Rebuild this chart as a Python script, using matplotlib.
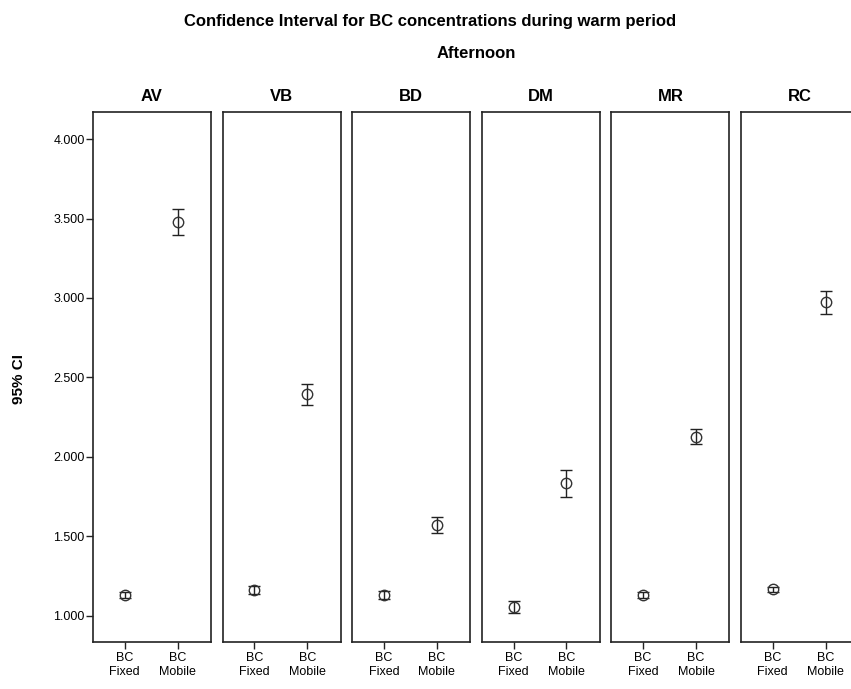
import matplotlib
matplotlib.use("Agg")
from matplotlib import pyplot as plt
from matplotlib.ticker import FuncFormatter

plt.rcParams['font.family'] = ['Liberation Sans', 'DejaVu Sans']

# 数据
sites = ['AV', 'VB', 'BD', 'DM', 'MR', 'RC']
groups = ['BC\nFixed', 'BC\nMobile']
fixed_mean = [1.132, 1.162, 1.133, 1.056, 1.132, 1.168]
fixed_lo = [1.112, 1.138, 1.108, 1.020, 1.114, 1.152]
fixed_hi = [1.152, 1.186, 1.158, 1.094, 1.150, 1.184]
mobile_mean = [3.478, 2.394, 1.574, 1.834, 2.126, 2.975]
mobile_lo = [3.398, 2.328, 1.524, 1.750, 2.082, 2.900]
mobile_hi = [3.558, 2.462, 1.622, 1.918, 2.176, 3.046]
yticks = [1.0, 1.5, 2.0, 2.5, 3.0, 3.5, 4.0]

fig = plt.figure(figsize=(8.51, 6.89), dpi=100)

# 标题
fig.text(0.505, 0.969, 'Confidence Interval for BC concentrations during warm period',
         ha='center', va='center', fontsize=12, fontweight='bold')
fig.text(0.56, 0.923, 'Afternoon', ha='center', va='center', fontsize=12, fontweight='bold')
fig.text(0.022, 0.45, '95% CI', ha='center', va='center', rotation=90,
         fontsize=11, fontweight='bold')

# 每个面板的位置
left0 = 93 / 851
step = 129.6 / 851
w = 118 / 851
bottom = 1 - 642 / 689
h = (642 - 112) / 689

fmt = FuncFormatter(lambda v, p: ('%.3f' % v))

for i, s in enumerate(sites):
    ax = fig.add_axes([left0 + i * step, bottom, w, h])
    means = [fixed_mean[i], mobile_mean[i]]
    lo = [fixed_mean[i] - fixed_lo[i], mobile_mean[i] - mobile_lo[i]]
    hi = [fixed_hi[i] - fixed_mean[i], mobile_hi[i] - mobile_mean[i]]
    ax.errorbar([0, 1], means, yerr=[lo, hi], fmt='o', mfc='none', mec='#333333',
                ms=7.5, mew=1.0, ecolor='#222222', elinewidth=1.0, capsize=4.5, capthick=1.0)
    ax.set_xlim(-0.6, 1.63)
    ax.set_ylim(0.836, 4.17)
    ax.set_xticks([0, 1])
    ax.set_xticklabels(groups, fontsize=9, linespacing=1.25)
    ax.set_title(s, fontsize=12, fontweight='bold', pad=8)
    for sp in ax.spines.values():
        sp.set_linewidth(1.2)
        sp.set_color('#222222')
    ax.tick_params(axis='x', length=5, width=1.0, pad=2, color='#222222')
    if i == 0:
        ax.set_yticks(yticks)
        ax.yaxis.set_major_formatter(fmt)
        ax.tick_params(axis='y', length=5, width=1.0, labelsize=9, pad=1, color='#222222')
    else:
        ax.set_yticks([])

fig.savefig('out.png', dpi=100)
